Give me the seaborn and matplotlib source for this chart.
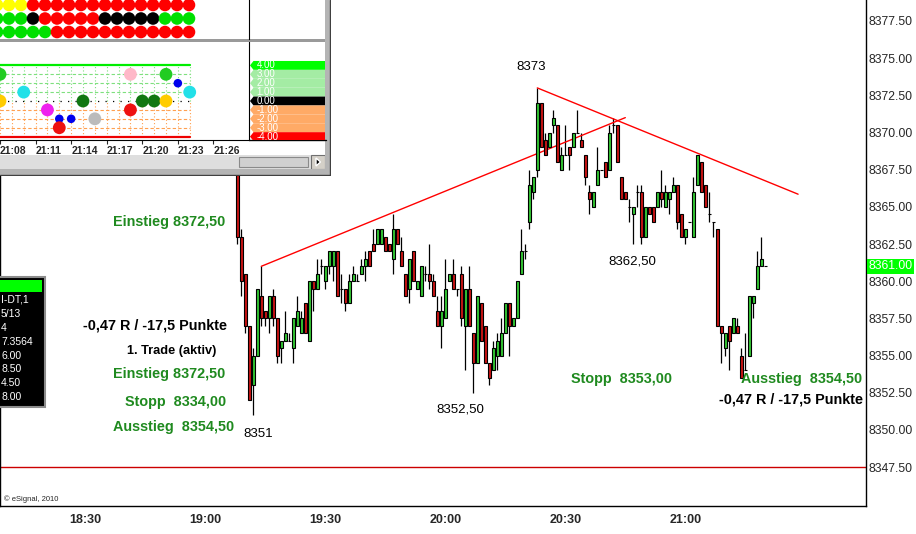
import numpy as np
import pandas as pd
import matplotlib.pyplot as plt
import matplotlib.transforms as mtransforms
from matplotlib.patches import Rectangle, Polygon
import seaborn as sns

sns.set_style("white")
plt.rcParams["font.family"] = ["Liberation Sans", "DejaVu Sans"]

# ---------------- data ----------------
# 1-minute bars, time in minutes after 18:00 (19:08 ... 21:20)
bar_minutes = list(range(68, 201))
opens = [8368.5, 8363, 8360.5, 8357, 8353, 8355, 8359, 8358, 8357.5, 8359,
         8357.5, 8355.5, 8356, 8356, 8355.5, 8357, 8356.5, 8358.5, 8356, 8360,
         8359.5, 8361, 8360, 8361, 8361, 8362, 8359.5, 8359.5, 8358.5, 8360,
         8360, 8360.5, 8361, 8362, 8362.5, 8362.5, 8362.5, 8363, 8362.5, 8361.5,
         8363.5, 8362, 8360.5, 8359.5, 8362, 8359.5, 8359, 8360.5, 8360.5, 8360,
         8358, 8357, 8357.5, 8360, 8360.5, 8359.5, 8360.5, 8357, 8359.5, 8356.5,
         8354.5, 8358.5, 8357, 8354.5, 8354, 8355, 8355, 8356.5, 8358.5, 8357,
         8357.5, 8360.5, 8362, 8364, 8366, 8367.5, 8372, 8369.5, 8369, 8370.5,
         8370.5, 8367.5, 8368.5, 8369, 8369, 8370, 8369.5, 8368.5, 8366, 8365,
         8366.5, 8367.5, 8368, 8367.5, 8370.5, 8370.5, 8367, 8366, 8365, 8364.5,
         8366, 8366, 8363, 8365, 8365, 8365, 8366, 8365, 8365.5, 8366,
         8366.5, 8364.5, 8363, 8364, 8363, 8366.5, 8368, 8366.5, 8364.5, 8364,
         8363.5, 8357, 8355.5, 8357, 8356.5, 8357, 8355, 8354, 8355, 8358.5,
         8359.5, 8361, 8361]
highs = [8368.5, 8363.5, 8360.5, 8357, 8355.5, 8359.5, 8361, 8358, 8359, 8359.5,
         8357.5, 8356, 8358, 8356.5, 8357.5, 8359, 8358, 8358.5, 8360, 8360,
         8361.5, 8361.5, 8361, 8362, 8362, 8362, 8360.5, 8359.5, 8360.5, 8361,
         8360.5, 8361.5, 8362, 8362, 8363.5, 8363.5, 8363.5, 8363, 8362.5, 8364.5,
         8363.5, 8363, 8360.5, 8361.5, 8362, 8360, 8361, 8361, 8362.5, 8360.5,
         8359, 8359, 8361.5, 8360.5, 8361.5, 8359.5, 8361, 8359.5, 8361, 8356.5,
         8359, 8358.5, 8357, 8354.5, 8356, 8356.5, 8357.5, 8358.5, 8358.5, 8357.5,
         8360, 8363.5, 8362.5, 8367.5, 8367, 8373, 8372, 8370, 8370, 8371.5,
         8370.5, 8369, 8370.5, 8369, 8370, 8371.5, 8370, 8368.5, 8366.5, 8366,
         8369, 8367.5, 8368, 8370.5, 8371, 8370.5, 8367, 8366, 8365.5, 8365,
         8366.5, 8366.5, 8365, 8365, 8365, 8366, 8367.5, 8366.5, 8366, 8367,
         8366.5, 8364.5, 8363.5, 8364, 8367, 8368.5, 8368, 8366.5, 8366, 8364,
         8363.5, 8357, 8356.5, 8357, 8357.5, 8357.5, 8355.5, 8356.5, 8359, 8359,
         8362, 8363, 8361]
lows = [8362.5, 8359, 8356.5, 8352, 8351, 8355, 8357, 8357, 8356.5, 8357,
        8354.5, 8354.5, 8356, 8356, 8354.5, 8357, 8356.5, 8356.5, 8356, 8358,
        8359.5, 8360.5, 8359.5, 8360.5, 8360, 8359, 8358.5, 8358, 8358.5, 8360,
        8360, 8360.5, 8360, 8361, 8362, 8362.5, 8362.5, 8362, 8362, 8360.5,
        8362.5, 8361, 8359, 8358.5, 8360, 8359.5, 8359, 8360, 8359.5, 8359,
        8357, 8355.5, 8357.5, 8360, 8359.5, 8359, 8357, 8354, 8357, 8352.5,
        8354.5, 8356, 8354.5, 8353, 8354, 8354, 8355, 8356.5, 8355, 8357,
        8357.5, 8360.5, 8361.5, 8363.5, 8365.5, 8367, 8369, 8368.5, 8369, 8370,
        8368, 8367.5, 8368.5, 8367.5, 8369, 8370, 8369, 8366.5, 8364.5, 8365,
        8366.5, 8367.5, 8367, 8367.5, 8370, 8368, 8365.5, 8365.5, 8364, 8362.5,
        8365, 8362.5, 8363, 8364.5, 8364, 8365, 8365, 8365, 8364.5, 8366,
        8363.5, 8363, 8362.5, 8364, 8363, 8366.5, 8366, 8365, 8364, 8363,
        8357, 8354.5, 8355, 8354, 8356.5, 8356.5, 8353.5, 8354, 8355, 8357.5,
        8359.5, 8361, 8361]
closes = [8363, 8360, 8357, 8352, 8355, 8359.5, 8357.5, 8357.5, 8359, 8357.5,
          8355, 8356, 8356.5, 8356, 8357.5, 8358, 8357.5, 8356.5, 8360, 8359.5,
          8360.5, 8361, 8361, 8362, 8362, 8359, 8359.5, 8358.5, 8360, 8360.5,
          8360, 8361, 8361.5, 8361, 8362, 8363.5, 8363.5, 8362, 8362, 8363.5,
          8362.5, 8361, 8359, 8361.5, 8360, 8360, 8361, 8360.5, 8360, 8359,
          8357, 8358, 8359.5, 8360.5, 8359.5, 8359.5, 8357.5, 8359.5, 8357, 8354.5,
          8359, 8356, 8354.5, 8353.5, 8355.5, 8356, 8356.5, 8358.5, 8357, 8357.5,
          8360, 8362, 8362, 8366.5, 8367, 8372, 8369, 8368.5, 8370, 8371,
          8368, 8368.5, 8368.5, 8368.5, 8370, 8370, 8369, 8367, 8365.5, 8366,
          8367.5, 8367.5, 8367, 8370, 8370.5, 8368, 8365.5, 8365.5, 8365, 8365,
          8366, 8363, 8365, 8364.5, 8364, 8366, 8365.5, 8366, 8366, 8366.5,
          8364, 8363, 8363.5, 8364, 8366, 8368.5, 8366, 8365, 8364.5, 8364,
          8357, 8356.5, 8356.5, 8356, 8357.5, 8356.5, 8353.5, 8354, 8359, 8359,
          8361, 8361.5, 8361]

time_ticks = [30, 60, 90, 120, 150, 180]
time_labels = ["18:30", "19:00", "19:30", "20:00", "20:30", "21:00"]
price_ticks = [8347.5, 8350.0, 8352.5, 8355.0, 8357.5, 8360.0, 8362.5,
               8365.0, 8367.5, 8370.0, 8372.5, 8375.0, 8377.5]
last_price = 8361.0
stop_level = 8347.5
uptrend_t = [74, 165]
uptrend_p = [8361.0, 8371.0]
downtrend_t = [143, 208.2]
downtrend_p = [8373.0, 8365.85]

GREEN = "#1f8a1f"
notes = [
    ("Einstieg 8372,50", GREEN, 169.5, 222, 10.4),
    ("-0,47 R / -17,5 Punkte", "black", 155, 325, 10.4),
    ("1. Trade (aktiv)", "black", 171.5, 351, 9.2),
    ("Einstieg 8372,50", GREEN, 169.5, 374, 10.4),
    ("Stopp  8334,00", GREEN, 176, 402, 10.4),
    ("Ausstieg  8354,50", GREEN, 173.5, 427, 10.4),
    ("Stopp  8353,00", GREEN, 621.5, 379, 10.4),
    ("Ausstieg  8354,50", GREEN, 801.5, 379, 10.4),
    ("-0,47 R / -17,5 Punkte", "black", 791, 400, 10.4),
]
price_notes = [("8373", 531, 67), ("8351", 258, 434),
               ("8352,50", 460, 410), ("8362,50", 632, 262)]
panel_lines = ["I-DT,1", "5/13", "4", "7.3564", "6.00", "8.50", "4.50", "8.00"]

# inset window (other chart): dot matrix rows, columns -1..15
dot_cols = list(range(-1, 16))
dot_rows = [
    ["#ffff00"] * 3 + ["#ff0000"] * 14,
    ["#00e000"] * 3 + ["#000000"] + ["#ff0000"] * 5 + ["#000000"] * 5 + ["#00e000"] * 3,
    ["#00e000"] * 5 + ["#ff0000"] * 12,
]
osc_cols = [-1, 1, -1, 3, 4, 4, 5, 6, 7, 10, 10, 11, 12, 13, 13, 14, 15]
osc_levels = [3, 1, 0, -1, -2, -3, -2, 0, -2, 3, -1, 0, 0, 3, 0, 2, 1]
osc_colors = ["#22cc22", "#22e0e8", "#ffcc00", "#ee22ee", "#0000ee", "#ee1111",
              "#0000ee", "#117711", "#bbbbbb", "#ffb8c8", "#ee1111", "#117711",
              "#117711", "#22cc22", "#ffcc00", "#0000ee", "#22e0e8"]
osc_kind = ["big", "big", "big", "big", "small", "big", "small", "big", "big",
            "big", "big", "big", "big", "big", "big", "small", "big"]
levels = [4, 3, 2, 1, 0, -1, -2, -3, -4]
level_colors = ["#00ff00", "#a4eca4", "#a4eca4", "#a4eca4", "#000000",
                "#ffaa66", "#ffaa66", "#ffaa66", "#ff0000"]
inset_tick_cols = [-1, 2, 5, 8, 11, 14, 17]
inset_tick_labels = ["21:08", "21:11", "21:14", "21:17", "21:20", "21:23", "21:26"]

# ---------------- figure ----------------
W, H = 916, 534
fig = plt.figure(figsize=(W / 100, H / 100), dpi=100)
fig.patch.set_facecolor("white")


def px_axes(x0, y0, x1, y1):
    return fig.add_axes([x0 / W, 1 - y1 / H, (x1 - x0) / W, (y1 - y0) / H])


# main price chart
ax = px_axes(0, 0, 866, 506)
ax.set_xlim(8.675, 225.175)
ax.set_ylim(8344.877, 8378.9125)

df = pd.DataFrame({"t": bar_minutes, "o": opens, "h": highs, "l": lows, "c": closes})
body_col = np.where(df.c > df.o, "#33c633", np.where(df.c < df.o, "#c81414", "black"))
ax.vlines(df.t, df.l, df.h, color="black", lw=0.9, zorder=2)
ax.bar(df.t, df.c - df.o, bottom=df.o, width=0.72, color=body_col,
       edgecolor="black", linewidth=0.8, zorder=3)

sns.lineplot(x=uptrend_t, y=uptrend_p, ax=ax, color="#ff0000", lw=1, sort=False)
sns.lineplot(x=downtrend_t, y=downtrend_p, ax=ax, color="#ff0000", lw=1, sort=False)
ax.axhline(stop_level, color="#cc0000", lw=1)

ax.yaxis.tick_right()
ax.set_yticks(price_ticks)
ax.set_yticklabels([f"{v:.2f}" for v in price_ticks])
ax.tick_params(axis="y", length=0, pad=2, labelsize=8.8)
ax.set_xticks(time_ticks)
ax.set_xticklabels(time_labels, fontweight="bold")
ax.tick_params(axis="x", length=0, pad=6, labelsize=9)
ax.set_xlabel("")
ax.set_ylabel("")
ax.spines["top"].set_visible(False)
for s in ["left", "right", "bottom"]:
    ax.spines[s].set_color("black")
    ax.spines[s].set_linewidth(1)

tr = mtransforms.blended_transform_factory(ax.transAxes, ax.transData)
ax.text(1.003, last_price, f"{last_price:.2f}", transform=tr, color="white",
        fontsize=8.8, ha="left", va="center", clip_on=False,
        bbox=dict(boxstyle="square,pad=0.1", fc="#00ff00", ec="none"))

# overlay in pixel coordinates for the text and the side panel
ov = px_axes(0, 0, W, H)
ov.set_xlim(0, W)
ov.set_ylim(H, 0)
ov.axis("off")
ov.patch.set_alpha(0)

for txt, col, x, y, fs in notes:
    ov.text(x, y, txt, color=col, fontsize=fs, fontweight="bold", ha="center", va="center")
for txt, x, y in price_notes:
    ov.text(x, y, txt, color="black", fontsize=9.5, ha="center", va="center")
ov.text(4, 499, "\u00a9 eSignal, 2010", fontsize=5.5, ha="left", va="center")

ov.add_patch(Rectangle((-2, 277), 47, 130, fc="black", ec="#8c8c8c", lw=1.5))
ov.add_patch(Rectangle((0, 280), 42, 12, fc="#00ff00", ec="none"))
for i, line in enumerate(panel_lines):
    ov.text(1, 300 + 13.9 * i, line, color="white", fontsize=7.5, ha="left", va="center")

# inset window
ins = px_axes(0, 0, 331, 176)
ins.set_xlim(0, 331)
ins.set_ylim(176, 0)
ins.axis("off")
ins.add_patch(Rectangle((0, 0), 326, 170, fc="white", ec="none"))
ins.add_patch(Rectangle((0, 38.5), 326, 3.5, fc="#9a9a9a", ec="none"))
ins.plot([249, 326], [140, 140], color="black", lw=1)
ins.add_patch(Rectangle((0, 155), 311, 14, fc="#dedede", ec="none"))
ins.add_patch(Rectangle((239, 157), 69, 10, fc="#d0d0d0", ec="#8a8a8a", lw=0.8))
ins.add_patch(Rectangle((311, 155), 14, 14, fc="#d4d0c8", ec="#707070", lw=0.8))
ins.add_patch(Polygon([(316, 158), (316, 166), (320.5, 162)], closed=True, fc="black"))
ins.add_patch(Rectangle((325, 0), 5, 175, fc="#b4b4b4", ec="none"))
ins.add_patch(Rectangle((0, 169), 330, 6, fc="#b4b4b4", ec="none"))
ins.plot([329.5, 329.5], [0, 175.5], color="#404040", lw=1)
ins.plot([0, 330], [175, 175], color="#404040", lw=1)

# dot matrix
dots_ax = px_axes(0, 0, 249, 38.5)
dot_df = pd.DataFrame([(c, r, col) for r, row in enumerate(dot_rows)
                       for c, col in zip(dot_cols, row)], columns=["col", "row", "color"])
sns.scatterplot(data=dot_df, x="col", y="row", hue="color",
                palette={c: c for c in dot_df.color.unique()},
                s=82, linewidth=0, legend=False, ax=dots_ax)
dots_ax.set_xlim(-0.75, 20)
dots_ax.set_ylim(2.48, -0.37)
dots_ax.set_xticks([])
dots_ax.set_yticks([])
dots_ax.set_xlabel("")
dots_ax.set_ylabel("")
for s in ["top", "left", "bottom"]:
    dots_ax.spines[s].set_visible(False)
dots_ax.spines["right"].set_color("black")

# oscillator panel
osc_ax = px_axes(0, 42, 249, 140)
osc_ax.set_xlim(-0.75, 20)
osc_ax.set_ylim(-4.38, 6.63)
for c in dot_cols:
    osc_ax.plot([c, c], [0, 4], color="#7ee07e", lw=0.8, ls=(0, (1, 2)))
    osc_ax.plot([c, c], [-4, 0], color="#ffa050", lw=0.8, ls=(0, (1, 2)))
for lev in levels:
    if lev == 4:
        sty = dict(color="#00ee00", lw=1.6, ls="-")
    elif lev == -4:
        sty = dict(color="#ee0000", lw=1.6, ls="-")
    elif lev == 0:
        sty = dict(color="black", lw=0.9, ls=(0, (1, 5)))
    elif lev > 0:
        sty = dict(color="#7ee07e", lw=0.8, ls=(0, (3, 2)))
    else:
        sty = dict(color="#ffa050", lw=0.8, ls=(0, (3, 2)))
    osc_ax.plot([-1, 15], [lev, lev], **sty)
osc_df = pd.DataFrame({"col": osc_cols, "level": osc_levels, "color": osc_colors, "kind": osc_kind})
sns.scatterplot(data=osc_df, x="col", y="level", hue="color",
                palette={c: c for c in osc_df.color.unique()},
                size="kind", sizes={"big": 85, "small": 38},
                linewidth=0, legend=False, ax=osc_ax, zorder=4)
osc_ax.set_xticks(inset_tick_cols)
osc_ax.set_xticklabels(inset_tick_labels, fontweight="bold", ha="left")
osc_ax.set_yticks([])
osc_ax.tick_params(axis="x", direction="out", length=3, pad=1, labelsize=7.5, bottom=True)
osc_ax.set_xlabel("")
osc_ax.set_ylabel("")
osc_ax.spines["top"].set_visible(False)
osc_ax.spines["left"].set_visible(False)
osc_ax.spines["right"].set_color("black")
osc_ax.spines["bottom"].set_color("black")

# level tags
leg_ax = px_axes(249.5, 42, 325, 140)
leg_ax.set_xlim(0, 75.5)
leg_ax.set_ylim(-4.38, 6.63)
leg_ax.axis("off")
leg_ax.patch.set_alpha(0)
for lev, col in zip(levels, level_colors):
    leg_ax.add_patch(Polygon([(4, lev + 0.5), (75.5, lev + 0.5), (75.5, lev - 0.5),
                              (4, lev - 0.5), (0.5, lev)], closed=True, fc=col, ec="none"))
for lev in levels:
    leg_ax.text(7, lev, f"{lev:.2f}", color="white", fontsize=7, ha="left", va="center")

fig.savefig("out.png", dpi=100, facecolor="white")
